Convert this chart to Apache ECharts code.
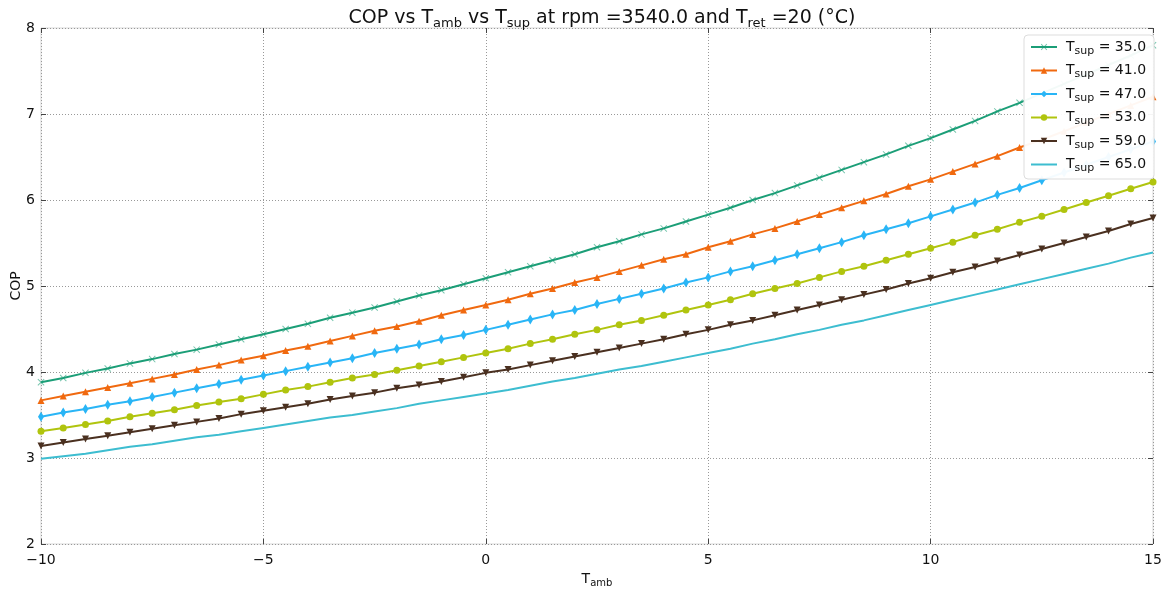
<!DOCTYPE html>
<html>
<head>
<meta charset="utf-8">
<script src="https://cdn.jsdelivr.net/npm/echarts@6/dist/echarts.min.js"></script>
<style>html,body{margin:0;padding:0;background:#fff;}#c{width:1167px;height:590px;}</style>
</head>
<body>
<div id="c"></div>
<script>
var tamb = [-10,-9.5,-9,-8.5,-8,-7.5,-7,-6.5,-6,-5.5,-5,-4.5,-4,-3.5,-3,-2.5,-2,-1.5,-1,-0.5,0,0.5,1,1.5,2,2.5,3,3.5,4,4.5,5,5.5,6,6.5,7,7.5,8,8.5,9,9.5,10,10.5,11,11.5,12,12.5,13,13.5,14,14.5,15];
var tsupLabels = ['35.0','41.0','47.0','53.0','59.0','65.0'];
var cop35 = [3.88,3.93,3.99,4.04,4.10,4.15,4.21,4.26,4.32,4.38,4.44,4.50,4.56,4.63,4.69,4.75,4.82,4.89,4.95,5.02,5.09,5.16,5.23,5.30,5.37,5.45,5.52,5.60,5.67,5.75,5.83,5.91,6.00,6.08,6.17,6.26,6.35,6.44,6.53,6.63,6.72,6.82,6.92,7.03,7.13,7.24,7.35,7.46,7.57,7.68,7.80];
var cop41 = [3.67,3.72,3.77,3.82,3.87,3.92,3.97,4.03,4.08,4.14,4.19,4.25,4.30,4.36,4.42,4.48,4.53,4.59,4.66,4.72,4.78,4.84,4.91,4.97,5.04,5.10,5.17,5.24,5.31,5.37,5.45,5.52,5.60,5.67,5.75,5.83,5.91,5.99,6.07,6.16,6.24,6.33,6.42,6.51,6.61,6.70,6.80,6.90,7.00,7.10,7.20];
var cop47 = [3.48,3.53,3.57,3.62,3.66,3.71,3.76,3.81,3.86,3.91,3.96,4.01,4.06,4.11,4.16,4.22,4.27,4.32,4.38,4.43,4.49,4.55,4.61,4.67,4.72,4.79,4.85,4.91,4.97,5.04,5.10,5.17,5.23,5.30,5.37,5.44,5.51,5.59,5.66,5.73,5.81,5.89,5.97,6.06,6.14,6.23,6.32,6.41,6.50,6.59,6.68];
var cop53 = [3.31,3.35,3.39,3.43,3.48,3.52,3.56,3.61,3.65,3.69,3.74,3.79,3.83,3.88,3.93,3.97,4.02,4.07,4.12,4.17,4.22,4.27,4.33,4.38,4.44,4.49,4.55,4.60,4.66,4.72,4.78,4.84,4.91,4.97,5.03,5.10,5.17,5.23,5.30,5.37,5.44,5.51,5.59,5.66,5.74,5.81,5.89,5.97,6.05,6.13,6.21];
var cop59 = [3.14,3.18,3.22,3.26,3.30,3.34,3.38,3.42,3.46,3.51,3.55,3.59,3.63,3.68,3.72,3.76,3.81,3.85,3.89,3.94,3.99,4.03,4.08,4.13,4.18,4.23,4.28,4.33,4.38,4.44,4.49,4.55,4.60,4.66,4.72,4.78,4.84,4.90,4.96,5.03,5.09,5.16,5.22,5.29,5.36,5.43,5.50,5.57,5.64,5.72,5.79];
var cop65 = [2.99,3.02,3.05,3.09,3.13,3.16,3.20,3.24,3.27,3.31,3.35,3.39,3.43,3.47,3.50,3.54,3.58,3.63,3.67,3.71,3.75,3.79,3.84,3.89,3.93,3.98,4.03,4.07,4.12,4.17,4.22,4.27,4.33,4.38,4.44,4.49,4.55,4.60,4.66,4.72,4.78,4.84,4.90,4.96,5.02,5.08,5.14,5.20,5.26,5.33,5.39];
var yTicks = [2,3,4,5,6,7,8];
var xTicks = [-10,-5,0,5,10,15];

var seriesValues = [cop35, cop41, cop47, cop53, cop59, cop65];
var colors = ['#1b9e77', '#f0690f', '#29b5f6', '#b0c40e', '#4a3020', '#3dbdd0'];
var xPath = 'path://M0,1L1,0L5,4L9,0L10,1L6,5L10,9L9,10L5,6L1,10L0,9L4,5Z';
var symbols = [xPath, 'triangle', 'path://M3,0L6,5L3,10L0,5Z', 'circle', 'triangle', 'none'];
var symSizes = [7, 7, [6, 10], 7, 7, 0];
var symRot = [0, 0, 0, 0, 180, 0];

function subLabel(v) { return '{g|}{n|T}{b|sup}{n| = ' + v + '}'; }
var names = tsupLabels.map(subLabel);

var series = seriesValues.map(function (vals, i) {
  return {
    name: names[i],
    type: 'line',
    data: vals.map(function (v, k) { return [tamb[k], v]; }),
    symbol: symbols[i],
    symbolSize: symSizes[i],
    symbolRotate: symRot[i],
    showSymbol: symbols[i] !== 'none',
    showAllSymbol: true,
    animation: false,
    lineStyle: { color: colors[i], width: 2 },
    itemStyle: { color: colors[i], opacity: i === 0 ? 0.6 : 1 },
    emphasis: { disabled: true },
    z: 10 - i
  };
});

var legendData = names.map(function (n, i) {
  if (symbols[i] === 'none') {
    return { name: n, icon: 'path://M0,0H26V0.05H0Z M0,3H26V5H0Z M0,7.95H26V8H0Z', itemStyle: { color: colors[i] } };
  }
  return { name: n };
});

var chart = echarts.init(document.getElementById('c'));
function axisBase() {
  return {
    type: 'value',
    axisLine: { show: false, onZero: false },
    axisTick: { show: true, inside: true, length: 5, lineStyle: { color: '#444', width: 1 } },
    splitLine: { show: true, lineStyle: { color: '#999', type: [1, 2], width: 1 } }
  };
}
chart.setOption({
  backgroundColor: '#fff',
  animation: false,
  title: {
    text: '{n|COP vs T}{b|amb}{n| vs T}{b|sup}{n| at rpm =3540.0 and T}{b|ret}{n| =20 (°C)}',
    left: 597, textAlign: 'center', top: 1,
    textStyle: {
      fontWeight: 'normal',
      rich: {
        n: { fontFamily: 'DejaVu Sans', fontSize: 19, fontWeight: 'normal', color: '#111' },
        b: { fontFamily: 'DejaVu Sans', fontSize: 13, fontWeight: 'normal', color: '#111', padding: [11, 0, 0, 0] }
      }
    }
  },
  grid: { left: 41, right: 14, top: 28, bottom: 46, containLabel: false, outerBoundsMode: 'none', show: true, borderColor: '#d8d8d8', borderWidth: 1 },
  legend: {
    orient: 'vertical', left: 1024, top: 35, z: 30,
    backgroundColor: 'rgba(255,255,255,0.95)', borderColor: '#ddd', borderWidth: 1, borderRadius: 4,
    padding: [5, 8, 5, 6], itemGap: 7, itemWidth: 26, itemHeight: 8,
    textStyle: {
      rich: {
        g: { width: 4 },
        n: { fontFamily: 'DejaVu Sans', fontSize: 14, color: '#111', lineHeight: 20 },
        b: { fontFamily: 'DejaVu Sans', fontSize: 11, color: '#111', padding: [8, 0, 0, 0] }
      }
    },
    data: legendData
  },
  xAxis: [Object.assign(axisBase(), {
    min: xTicks[0], max: xTicks[xTicks.length - 1], interval: 5,
    name: '{n|T}{b|amb}', nameLocation: 'middle', nameGap: 26,
    nameTextStyle: {
      rich: {
        n: { fontFamily: 'DejaVu Sans', fontSize: 14, color: '#111' },
        b: { fontFamily: 'DejaVu Sans', fontSize: 10, color: '#111', padding: [8, 0, 0, 0] }
      }
    },
    axisLabel: { fontFamily: 'DejaVu Sans', fontSize: 14, color: '#111', margin: 9,
      formatter: function (v) { return String(v).replace('-', '\u2212'); } }
  }), Object.assign(axisBase(), {
    position: 'top', min: xTicks[0], max: xTicks[xTicks.length - 1], interval: 5,
    axisLabel: { show: false }, splitLine: { show: false }
  })],
  yAxis: [Object.assign(axisBase(), {
    min: yTicks[0], max: yTicks[yTicks.length - 1], interval: 1,
    name: 'COP', nameLocation: 'middle', nameGap: 18, nameRotate: 90, nameMoveOverlap: false,
    nameTextStyle: { fontFamily: 'DejaVu Sans', fontSize: 14, color: '#111' },
    axisLabel: { fontFamily: 'DejaVu Sans', fontSize: 14, color: '#111', margin: 6 }
  }), Object.assign(axisBase(), {
    position: 'right', min: yTicks[0], max: yTicks[yTicks.length - 1], interval: 1,
    axisLabel: { show: false }, splitLine: { show: false }
  })],
  series: series
});
</script>
</body>
</html>
